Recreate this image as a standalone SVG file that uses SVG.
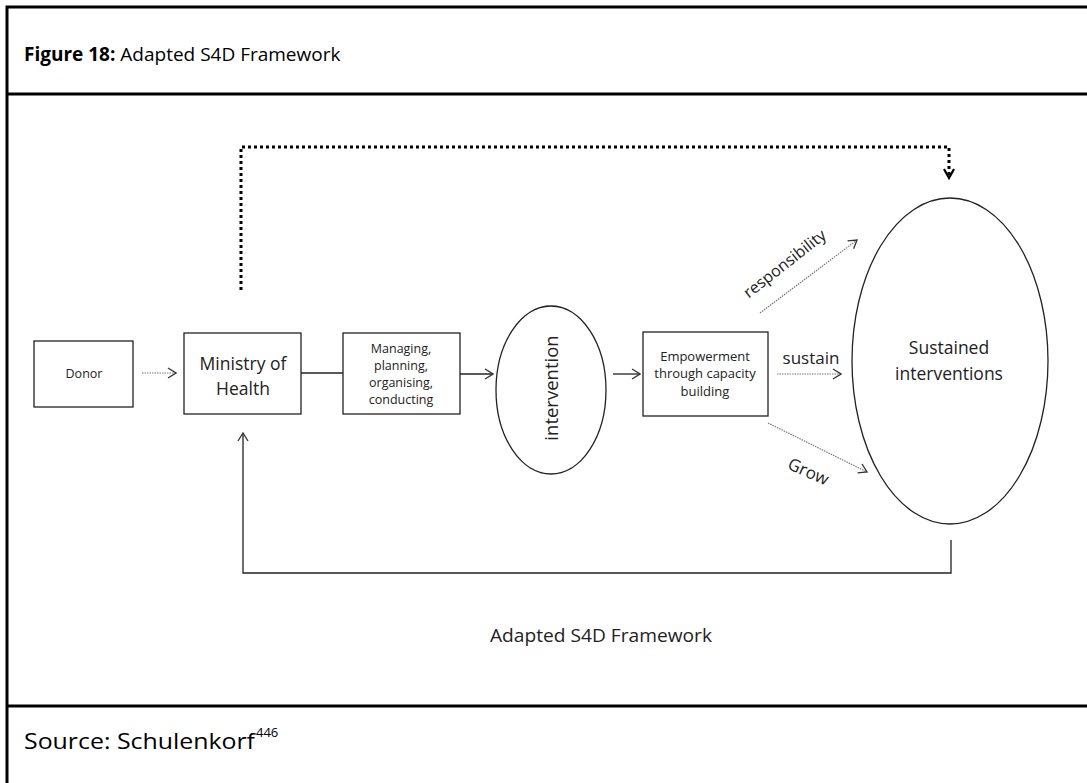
<svg xmlns="http://www.w3.org/2000/svg" width="1087" height="783" viewBox="0 0 1087 783">
<style>
.frame{stroke:#000;stroke-width:3;fill:none}
.box{fill:#fff;stroke:#222;stroke-width:1.3}
.t{font-family:"Open Sans","Liberation Sans",sans-serif;fill:#222;text-anchor:middle}
.hdr{font-family:"Open Sans","Liberation Sans",sans-serif;fill:#000}
.solid{stroke:#222;stroke-width:1.3;fill:none}
.gdot{stroke:#777;stroke-width:1.2;fill:none;stroke-dasharray:1.5 1}
.bdot{stroke:#000;stroke-width:3;fill:none;stroke-dasharray:3 3}
</style>
<defs>
<marker id="open" viewBox="0 0 10 12" refX="9" refY="6" markerWidth="10" markerHeight="12" markerUnits="userSpaceOnUse" orient="auto">
<path d="M1,1 L9,6 L1,11" fill="none" stroke="#333" stroke-width="1.3"/>
</marker>
<marker id="openb" viewBox="0 0 12 12" refX="10" refY="6" markerWidth="12" markerHeight="12" markerUnits="userSpaceOnUse" orient="auto">
<path d="M1,1 L10,6 L1,11" fill="none" stroke="#000" stroke-width="2.2"/>
</marker>
</defs>
<rect width="1087" height="783" fill="#fff"/>
<g id="frame">
<path class="frame" d="M7,790 V7 H1095"/>
<path class="frame" d="M7,94 H1095 M7,706 H1095"/>
<text class="hdr" font-size="19" x="24" y="61"><tspan font-weight="bold">Figure 18:</tspan> Adapted S4D Framework</text>
<text class="hdr" font-size="21" x="24" y="749" textLength="231" lengthAdjust="spacingAndGlyphs">Source: Schulenkorf</text>
<text class="hdr" font-size="13" x="256" y="737">446</text>
</g>
<g id="connectors">
<line class="gdot" x1="142" y1="373" x2="176" y2="373" marker-end="url(#open)"/>
<line class="solid" x1="301" y1="373" x2="343" y2="373"/>
<line class="solid" x1="460" y1="374" x2="493" y2="374" marker-end="url(#open)"/>
<line class="solid" x1="613" y1="374" x2="640" y2="374" marker-end="url(#open)"/>
<line class="gdot" x1="777" y1="374" x2="841" y2="374" marker-end="url(#open)"/>
<line class="gdot" x1="760" y1="313" x2="857" y2="240" marker-end="url(#open)"/>
<line class="gdot" x1="768" y1="423" x2="867" y2="472" marker-end="url(#open)"/>
<path class="solid" d="M951,540 V573 H243 V433" marker-end="url(#open)"/>
<path class="bdot" d="M241,290 V147 H949 V178" marker-end="url(#openb)"/>
<text class="t" font-size="17" x="811" y="364">sustain</text>
<text class="t" font-size="16" transform="translate(788,268) rotate(-38)">responsibility</text>
<text class="t" font-size="17" transform="translate(806,477) rotate(24)">Grow</text>
</g>
<g id="donor">
<rect class="box" x="34" y="341" width="99" height="66"/>
<text class="t" font-size="12.5" x="84" y="378">Donor</text>
</g>
<g id="ministry">
<rect class="box" x="184" y="333" width="117" height="81"/>
<text class="t" font-size="17.5" x="243" y="370">Ministry of</text>
<text class="t" font-size="17.5" x="243" y="395">Health</text>
</g>
<g id="managing">
<rect class="box" x="343" y="333" width="117" height="81"/>
<text class="t" font-size="12.5" x="401" y="353">Managing,</text>
<text class="t" font-size="12.5" x="401" y="370">planning,</text>
<text class="t" font-size="12.5" x="401" y="387">organising,</text>
<text class="t" font-size="12.5" x="401" y="404">conducting</text>
</g>
<g id="intervention">
<ellipse class="box" cx="551" cy="390" rx="55" ry="84"/>
<text class="t" font-size="18.5" transform="translate(558,388) rotate(-90)">intervention</text>
</g>
<g id="empowerment">
<rect class="box" x="643" y="332" width="125" height="84"/>
<text class="t" font-size="13" x="705" y="361">Empowerment</text>
<text class="t" font-size="13" x="705" y="378">through capacity</text>
<text class="t" font-size="13" x="705" y="396">building</text>
</g>
<g id="sustained">
<ellipse class="box" cx="950" cy="361" rx="98" ry="163"/>
<text class="t" font-size="17.5" x="949" y="354">Sustained</text>
<text class="t" font-size="17.5" x="949" y="380">interventions</text>
</g>
<g id="caption">
<text class="t" font-size="17.5" x="601" y="642" textLength="222" lengthAdjust="spacingAndGlyphs">Adapted S4D Framework</text>
</g>
</svg>
